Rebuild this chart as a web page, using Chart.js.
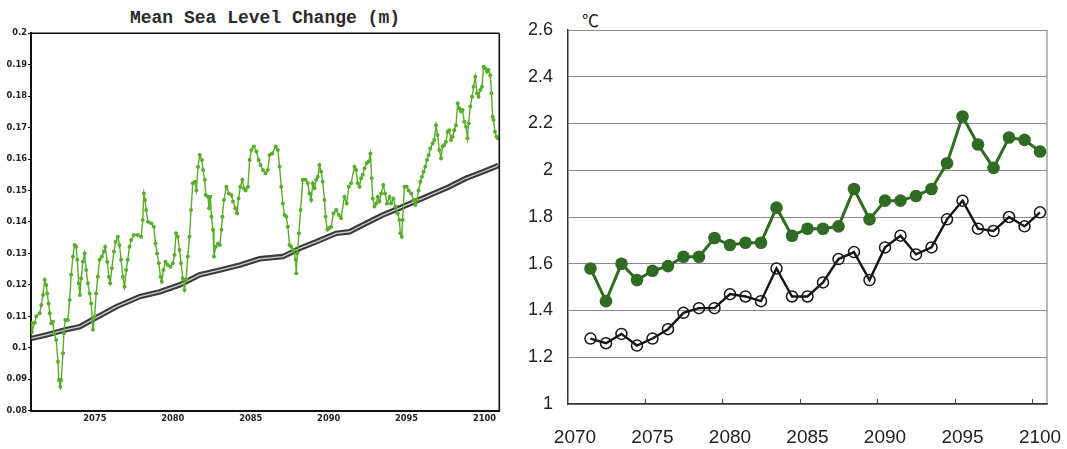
<!DOCTYPE html>
<html>
<head>
<meta charset="utf-8">
<script src="https://cdn.jsdelivr.net/npm/chart.js@4.4.1/dist/chart.umd.min.js"></script>
<style>
  html, body { margin: 0; padding: 0; background: #fff; }
  body { width: 1067px; height: 449px; position: relative; overflow: hidden; }
  canvas { position: absolute; top: 0; }
  #sea { left: 0; }
  #temp { left: 520px; }
  .title { position: absolute; left: 0; width: 530px; top: 8px; text-align: center;
    font-family: "Liberation Mono", monospace; font-weight: bold; font-size: 18px; color: #2a2a2a; }
  .unit { position: absolute; left: 582px; top: 7px; font-family: "Noto Sans CJK JP", sans-serif;
    font-size: 17px; color: #222; }
</style>
</head>
<body>
<div class="title">Mean Sea Level Change (m)</div>
<div class="unit">℃</div>
<canvas id="sea" width="520" height="449"></canvas>
<canvas id="temp" width="547" height="449"></canvas>
<script>
// left panel: monthly sea level (green) and trend (gray)
const seaYears = [
  2070.92, 2070.96, 2071.14, 2071.24, 2071.46, 2071.56, 2071.67, 2071.78, 2071.88, 2071.94,
  2072.03, 2072.10, 2072.20, 2072.31, 2072.37, 2072.52, 2072.63, 2072.69, 2072.78, 2072.84,
  2072.95, 2073.01, 2073.10, 2073.27, 2073.38, 2073.48, 2073.59, 2073.70, 2073.80, 2073.87,
  2073.96, 2074.04, 2074.12, 2074.23, 2074.34, 2074.44, 2074.55, 2074.66, 2074.76, 2074.87,
  2074.98, 2075.08, 2075.19, 2075.30, 2075.45, 2075.58, 2075.66, 2075.79, 2075.90, 2075.98,
  2076.09, 2076.22, 2076.33, 2076.47, 2076.58, 2076.68, 2076.79, 2076.90, 2077.01, 2077.11,
  2077.22, 2077.33, 2077.50, 2077.75, 2077.97, 2078.07, 2078.14, 2078.22, 2078.29, 2078.40,
  2078.61, 2078.78, 2078.89, 2078.99, 2079.10, 2079.21, 2079.29, 2079.40, 2079.53, 2079.68,
  2079.85, 2080.00, 2080.11, 2080.21, 2080.32, 2080.43, 2080.53, 2080.64, 2080.75, 2080.85,
  2080.96, 2081.07, 2081.17, 2081.28,
  2081.41, 2081.51, 2081.62, 2081.73, 2081.87, 2081.94, 2082.05, 2082.11, 2082.26, 2082.32,
  2082.41, 2082.48, 2082.58, 2082.64, 2082.75, 2082.90, 2083.01, 2083.12, 2083.18, 2083.28,
  2083.44, 2083.60, 2083.76, 2083.86, 2084.01, 2084.12, 2084.22, 2084.33, 2084.46, 2084.56,
  2084.67, 2084.82, 2084.93, 2085.04, 2085.20, 2085.36, 2085.51, 2085.63, 2085.78, 2085.95,
  2086.10, 2086.21, 2086.38, 2086.60, 2086.74, 2086.85, 2086.96, 2087.06, 2087.17, 2087.28,
  2087.38, 2087.49, 2087.60, 2087.75, 2087.88, 2087.92, 2087.99, 2088.09, 2088.20, 2088.34,
  2088.52, 2088.66, 2088.77, 2088.88, 2088.98, 2089.09, 2089.20, 2089.30, 2089.41, 2089.52,
  2089.62, 2089.73, 2089.80, 2089.91, 2090.01, 2090.16, 2090.31, 2090.48, 2090.65, 2090.80,
  2091.01, 2091.16, 2091.29, 2091.44, 2091.66, 2091.76, 2091.87, 2091.98, 2092.08, 2092.19,
  2092.30, 2092.44, 2092.57, 2092.68, 2092.76, 2092.83, 2092.94, 2093.05, 2093.15, 2093.26,
  2093.37, 2093.51, 2093.62, 2093.75, 2093.90, 2094.01, 2094.15, 2094.28, 2094.43, 2094.54,
  2094.60, 2094.69, 2094.75, 2094.86, 2095.01, 2095.13, 2095.29, 2095.44, 2095.56, 2095.67,
  2095.77, 2095.88, 2095.99, 2096.10, 2096.20, 2096.31, 2096.42, 2096.52, 2096.67, 2096.78,
  2096.89, 2096.99, 2097.10, 2097.21, 2097.31, 2097.42, 2097.53, 2097.63, 2097.74, 2097.85,
  2097.95, 2098.06, 2098.17, 2098.28, 2098.38, 2098.49, 2098.59, 2098.70, 2098.81, 2098.91,
  2098.98, 2099.09, 2099.20, 2099.30, 2099.41, 2099.52, 2099.62, 2099.73, 2099.84, 2099.94,
  2100.05, 2100.16, 2100.26, 2100.37, 2100.45, 2100.52, 2100.58, 2100.67, 2100.77, 2100.86
];
const seaLevel = [
  0.108, 0.105, 0.108, 0.110, 0.111, 0.1136, 0.1168, 0.1216, 0.120, 0.1173,
  0.1141, 0.111, 0.1078, 0.1083, 0.1046, 0.1025, 0.0956, 0.0898, 0.0876, 0.0898,
  0.0983, 0.1046, 0.1088, 0.1088, 0.1152, 0.1232, 0.129, 0.1327, 0.1321, 0.128,
  0.1205, 0.1168, 0.1221, 0.1274, 0.130, 0.1247, 0.1205, 0.1173, 0.1141, 0.1057,
  0.1099, 0.1173, 0.1226, 0.128, 0.129, 0.1306, 0.1321, 0.1274, 0.1226, 0.1205,
  0.1253, 0.1306, 0.1337, 0.1353, 0.1327, 0.128, 0.1226, 0.1194, 0.1247, 0.128,
  0.1321, 0.1343, 0.1359, 0.1359, 0.1353, 0.1406, 0.1491, 0.147, 0.1438, 0.1401,
  0.1396, 0.1385, 0.1332, 0.130, 0.1269, 0.1226, 0.121, 0.1247, 0.1274, 0.1263,
  0.1258, 0.1269, 0.1295, 0.1364, 0.1353, 0.1311, 0.1269, 0.1221, 0.1184, 0.1216,
  0.129, 0.1353, 0.1438, 0.1523,
  0.1528, 0.150, 0.1576, 0.1613, 0.1597, 0.1565, 0.1534, 0.1486, 0.148, 0.1444,
  0.148, 0.1417, 0.1375, 0.129, 0.1321, 0.1332, 0.1327, 0.1375, 0.1417, 0.147,
  0.1512, 0.1491, 0.1486, 0.1465, 0.1444, 0.1428, 0.1475, 0.1512, 0.1534, 0.1507,
  0.150, 0.1512, 0.1597, 0.1629, 0.164, 0.1624, 0.1597, 0.1581, 0.1565, 0.1555,
  0.1565, 0.1613, 0.1618, 0.164, 0.1629, 0.1576, 0.1512, 0.1459, 0.1422, 0.1417,
  0.1385, 0.1327, 0.1321, 0.131, 0.128, 0.1237, 0.130, 0.1364, 0.1438, 0.1534,
  0.1534, 0.1523, 0.1491, 0.147, 0.1523, 0.1507, 0.1534, 0.1544, 0.1581, 0.156,
  0.1528, 0.147, 0.1417, 0.1375, 0.138, 0.1385, 0.1428, 0.1438, 0.1422, 0.1412,
  0.148, 0.1459, 0.1512, 0.1523, 0.1576, 0.1565, 0.1523, 0.1512, 0.1539, 0.155,
  0.1571, 0.1587, 0.1592, 0.1618, 0.1539, 0.1475, 0.1449, 0.1459, 0.148, 0.1465,
  0.1491, 0.1518, 0.1491, 0.1459, 0.148, 0.1459, 0.1475, 0.1449, 0.1428, 0.1406,
  0.1364, 0.1353, 0.1406, 0.1512, 0.1512, 0.150, 0.1491, 0.147, 0.1454, 0.147,
  0.150, 0.1528, 0.1544, 0.156, 0.1576, 0.1597, 0.1613, 0.1634, 0.165, 0.1661,
  0.1708, 0.1677, 0.1629, 0.1603, 0.164, 0.1645, 0.1655, 0.1687, 0.1692, 0.1661,
  0.1671, 0.1692, 0.1708, 0.1777, 0.1762, 0.1751, 0.1756, 0.1719, 0.1703, 0.1666,
  0.1714, 0.1767, 0.1798, 0.183, 0.1862, 0.1809, 0.1798, 0.182, 0.183, 0.1894,
  0.1889, 0.1878, 0.1883, 0.1867, 0.1809, 0.1735, 0.1724, 0.1687, 0.1671, 0.1666
];
const trendYears = [2070.94, 2071.91, 2073.08, 2074.04, 2074.79, 2076.39, 2077.88, 2079.16, 2080.44,
  2081.72, 2083.01, 2084.29, 2085.57, 2087.06, 2088.13, 2089.20, 2090.48, 2091.34, 2092.41,
  2093.47, 2094.54, 2096.25, 2097.74, 2098.81, 2099.66, 2100.73, 2100.90];
const trendLevel = [0.103, 0.1041, 0.1057, 0.1067, 0.1088, 0.1131, 0.1163, 0.1178, 0.120,
  0.1232, 0.1247, 0.1263, 0.1283, 0.129, 0.1316, 0.1337, 0.1364, 0.1369, 0.1396,
  0.1422, 0.1444, 0.148, 0.1512, 0.1539, 0.1555, 0.1576, 0.1581];
const seaXTicks = [2075, 2080, 2085, 2090, 2095, 2100];
const seaYTicks = [0.08, 0.09, 0.1, 0.11, 0.12, 0.13, 0.14, 0.15, 0.16, 0.17, 0.18, 0.19, 0.2];

// right panel: annual temperature, two series
const tempYears = [2071, 2072, 2073, 2074, 2075, 2076, 2077, 2078, 2079, 2080,
  2081, 2082, 2083, 2084, 2085, 2086, 2087, 2088, 2089, 2090,
  2091, 2092, 2093, 2094, 2095, 2096, 2097, 2098, 2099, 2100];
const tempGreen = [1.58, 1.44, 1.60, 1.53, 1.57, 1.59, 1.63, 1.63, 1.71, 1.68,
  1.69, 1.69, 1.84, 1.72, 1.75, 1.75, 1.76, 1.92, 1.79, 1.87,
  1.87, 1.89, 1.92, 2.03, 2.23, 2.11, 2.01, 2.14, 2.13, 2.08];
const tempBlack = [1.28, 1.26, 1.30, 1.25, 1.28, 1.32, 1.39, 1.41, 1.41, 1.47,
  1.46, 1.44, 1.58, 1.46, 1.46, 1.52, 1.62, 1.65, 1.53, 1.67,
  1.72, 1.64, 1.67, 1.79, 1.87, 1.75, 1.74, 1.80, 1.76, 1.82];
const tempXTicks = [2070, 2075, 2080, 2085, 2090, 2095, 2100];
const tempYTicks = [1, 1.2, 1.4, 1.6, 1.8, 2, 2.2, 2.4, 2.6];

const toPoints = (xs, ys) => xs.map((x, i) => ({ x: x, y: ys[i] }));
const setTicks = (list) => (scale) => { scale.ticks = list.map(v => ({ value: v })); };

// draws the parts of the frame Chart.js doesn't (top/right edges, small x tick marks)
const framePlugin = {
  id: 'frame',
  afterDraw(chart, args, opts) {
    const ctx = chart.ctx;
    const a = chart.chartArea;
    ctx.save();
    ctx.strokeStyle = opts.color;
    ctx.lineWidth = opts.width;
    ctx.beginPath();
    if (opts.top) { ctx.moveTo(a.left, a.top); ctx.lineTo(a.right, a.top); }
    ctx.moveTo(a.right, a.top);
    ctx.lineTo(a.right, a.bottom);
    ctx.stroke();
    if (opts.marks) {
      const xs = chart.scales.x;
      ctx.strokeStyle = '#444';
      ctx.lineWidth = 1;
      ctx.beginPath();
      opts.marks.forEach((v) => {
        const px = Math.round(xs.getPixelForValue(v - 0.5)) + 0.5;
        ctx.moveTo(px, a.bottom);
        ctx.lineTo(px, a.bottom - 5);
      });
      ctx.stroke();
    }
    ctx.restore();
  }
};

const smallFont = { family: 'DejaVu Sans', size: 8.3, weight: 'bold' };

new Chart(document.getElementById('sea'), {
  type: 'line',
  data: {
    datasets: [
      {
        data: toPoints(seaYears, seaLevel),
        borderColor: '#58ad2a',
        backgroundColor: '#58ad2a',
        borderWidth: 1.4,
        pointRadius: 2,
        pointBorderWidth: 0,
      },
      {
        data: toPoints(trendYears, trendLevel),
        borderColor: '#cfcfcf',
        borderWidth: 1.3,
        pointRadius: 0,
      },
      {
        data: toPoints(trendYears, trendLevel),
        borderColor: '#3a3a3a',
        borderWidth: 5.5,
        pointRadius: 0,
      },
    ],
  },
  options: {
    responsive: false,
    animation: false,
    layout: { padding: { top: 33.3, right: 20.7, left: 0, bottom: 0 } },
    plugins: {
      legend: { display: false },
      tooltip: { enabled: false },
      frame: { color: '#111', width: 1.6, top: true },
    },
    scales: {
      x: {
        type: 'linear',
        min: 2070.9,
        max: 2100.95,
        afterBuildTicks: setTicks(seaXTicks),
        afterFit: (s) => { s.height = 38.3; },
        grid: { display: false, drawTicks: false },
        border: { display: true, color: '#111', width: 2 },
        ticks: { font: smallFont, color: '#222', padding: 3, maxRotation: 0, autoSkip: false,
          callback: (v) => String(v) },
      },
      y: {
        min: 0.08,
        max: 0.2,
        afterBuildTicks: setTicks(seaYTicks),
        afterFit: (s) => { s.width = 31; },
        grid: { drawOnChartArea: false, drawTicks: true, tickLength: 3, color: '#111' },
        border: { display: true, color: '#111', width: 2 },
        ticks: { font: smallFont, color: '#222', padding: 1, callback: (v) => String(v) },
      },
    },
  },
  plugins: [framePlugin],
});

new Chart(document.getElementById('temp'), {
  type: 'line',
  data: {
    datasets: [
      {
        data: toPoints(tempYears, tempGreen),
        borderColor: '#2f6b22',
        backgroundColor: '#2f6b22',
        borderWidth: 3,
        pointRadius: 6.3,
        pointBorderWidth: 0,
      },
      {
        data: toPoints(tempYears, tempBlack),
        borderColor: '#151515',
        backgroundColor: 'rgba(0,0,0,0)',
        borderWidth: 2.4,
        pointRadius: 5.5,
        pointBorderWidth: 1.5,
        pointBorderColor: '#151515',
      },
    ],
  },
  options: {
    responsive: false,
    animation: false,
    layout: { padding: { top: 30, right: 20, left: 0, bottom: 0 } },
    plugins: {
      legend: { display: false },
      tooltip: { enabled: false },
      frame: { color: '#777', width: 1, top: false, marks: tempXTicks },
    },
    scales: {
      x: {
        type: 'linear',
        min: 2069.55,
        max: 2100.45,
        afterBuildTicks: setTicks(tempXTicks),
        afterFit: (s) => { s.height = 45; },
        // invisible tick lines push the labels down without widening the side padding
        grid: { display: true, drawOnChartArea: false, drawTicks: true, tickLength: 20,
          color: 'rgba(0,0,0,0)' },
        border: { display: true, color: '#333', width: 1.5 },
        ticks: { font: { family: 'Liberation Sans', size: 19 }, color: '#222', padding: 2,
          maxRotation: 0, autoSkip: false, callback: (v) => String(v) },
      },
      y: {
        min: 1,
        max: 2.6,
        afterBuildTicks: setTicks(tempYTicks),
        afterFit: (s) => { s.width = 48; },
        grid: { color: '#8a8a8a', lineWidth: 1, drawTicks: false },
        border: { display: true, color: '#333', width: 1.5 },
        ticks: { font: { family: 'Liberation Sans', size: 18 }, color: '#222', padding: 15,
          callback: (v) => String(v) },
      },
    },
  },
  plugins: [framePlugin],
});
</script>
</body>
</html>
